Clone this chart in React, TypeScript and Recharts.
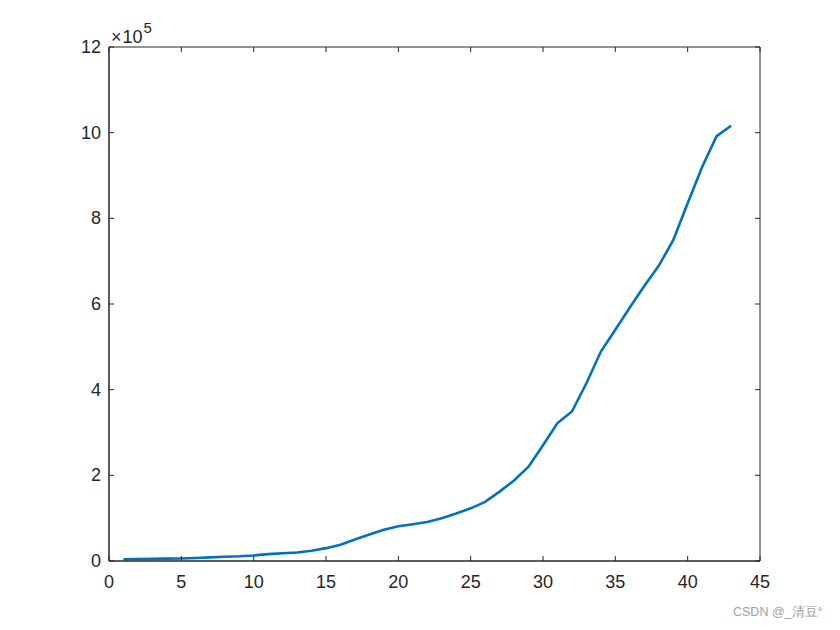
import React from 'react';
import { LineChart, Line, XAxis, YAxis, ReferenceArea } from 'recharts';

// x = day index, y = cumulative count
const days = [
  1, 2, 3, 4, 5, 6, 7, 8, 9, 10, 11, 12, 13, 14, 15, 16, 17, 18, 19, 20, 21,
  22, 23, 24, 25, 26, 27, 28, 29, 30, 31, 32, 33, 34, 35, 36, 37, 38, 39, 40,
  41, 42, 43,
];
const counts = [
  4000, 4500, 5000, 5500, 6000, 7000, 8500, 10000, 11000, 13000, 16000,
  18000, 20000, 24000, 30000, 38000, 50000, 62000, 73000, 81000, 86000,
  91000, 100000, 111000, 123000, 138000, 162000, 188000, 220000, 270000,
  322000, 349000, 415000, 489000, 540000, 592000, 642000, 689000, 749000,
  835000, 920000, 992000, 1016000,
];
const xTicks = [0, 5, 10, 15, 20, 25, 30, 35, 40, 45];
const yTicks = [0, 200000, 400000, 600000, 800000, 1000000, 1200000];

const data = days.map((d, i) => ({ day: d, count: counts[i] }));

const PLOT = { left: 109, right: 760, top: 47, bottom: 561 };
const AXIS = '#262626';
const FONT = '"Liberation Sans", Arial, sans-serif';
const TICK_LEN = 5;

const XTick = (props: any) => {
  const { x, payload } = props;
  return (
    <g>
      <line x1={x} x2={x} y1={PLOT.bottom} y2={PLOT.bottom - TICK_LEN} stroke={AXIS} />
      <line x1={x} x2={x} y1={PLOT.top} y2={PLOT.top + TICK_LEN} stroke={AXIS} />
      <text x={x} y={PLOT.bottom + 27} textAnchor="middle" fill={AXIS} fontSize={18} fontFamily={FONT}>
        {payload.value}
      </text>
    </g>
  );
};

const YTick = (props: any) => {
  const { y, payload } = props;
  return (
    <g>
      <line x1={PLOT.left} x2={PLOT.left + TICK_LEN} y1={y} y2={y} stroke={AXIS} />
      <line x1={PLOT.right} x2={PLOT.right - TICK_LEN} y1={y} y2={y} stroke={AXIS} />
      <text x={PLOT.left - 8} y={y + 6} textAnchor="end" fill={AXIS} fontSize={18} fontFamily={FONT}>
        {payload.value / 100000}
      </text>
    </g>
  );
};

const ExpLabel = () => (
  <text x={PLOT.left + 2} y={PLOT.top - 4} fill={AXIS} fontSize={18} fontFamily={FONT}>
    ×
    <tspan dx={1}>10</tspan>
    <tspan dy={-10} dx={1} fontSize={15}>5</tspan>
  </text>
);

export default function App() {
  return (
    <div style={{ position: 'absolute', left: 0, top: 0, width: 840, height: 630, background: '#fff' }}>
      <LineChart
        width={840}
        height={630}
        data={data}
        margin={{ top: PLOT.top, right: 840 - PLOT.right, bottom: 630 - PLOT.bottom - 30, left: PLOT.left - 40 }}
      >
        <XAxis
          dataKey="day"
          type="number"
          domain={[0, 45]}
          ticks={xTicks}
          height={30}
          tickLine={false}
          tick={<XTick />}
          stroke={AXIS}
          interval={0}
        />
        <YAxis
          type="number"
          domain={[0, 1200000]}
          ticks={yTicks}
          width={40}
          tickLine={false}
          tick={<YTick />}
          stroke={AXIS}
          interval={0}
          label={{ content: <ExpLabel /> }}
        />
        <ReferenceArea
          x1={0}
          x2={45}
          y1={0}
          y2={1200000}
          fill="none"
          fillOpacity={0}
          stroke={AXIS}
          strokeWidth={1}
          ifOverflow="visible"
        />
        <Line
          type="linear"
          dataKey="count"
          stroke="#0072BD"
          strokeWidth={2.6}
          dot={false}
          isAnimationActive={false}
        />
      </LineChart>
      <div
        style={{
          position: 'absolute',
          left: 733,
          top: 604,
          fontSize: 12.5,
          color: '#a0a0a0',
          fontFamily: FONT,
          whiteSpace: 'nowrap',
        }}
      >
        CSDN @_清豆°
      </div>
    </div>
  );
}
